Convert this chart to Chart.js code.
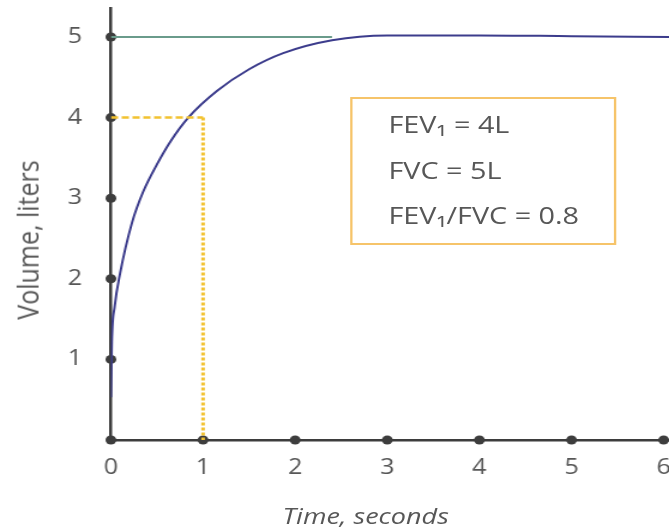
<!DOCTYPE html>
<html lang="en">
<head>
  <meta charset="UTF-8">
  <title>Volume-time curve</title>
  <script src="https://cdn.jsdelivr.net/npm/chart.js"></script>
  <style>
    body {
      margin: 0;
      padding: 0;
      background: #fff;
      font-family: 'Open Sans', sans-serif;
      overflow: hidden;
    }
    /* the source picture is stretched sideways by about 1.2, so the whole drawing is too */
    #wrap {
      position: relative;
      width: 563px;
      height: 532px;
      transform: scaleX(1.199);
      transform-origin: 0 0;
    }
    #infoBox {
      position: absolute;
      left: 292px;
      top: 97px;
      width: 218px;
      height: 144px;
      border: 2px solid #f6c46a;
      color: #575757;
      font-size: 24px;
    }
    #infoBox div {
      position: absolute;
      left: 30px;
      line-height: 24px;
      white-space: nowrap;
    }
    .axisTitle {
      position: absolute;
      color: #575757;
      white-space: nowrap;
      line-height: 1;
    }
    #xTitle {
      left: 305px;
      top: 516px;
      font-size: 22.5px;
      font-style: italic;
      transform: translate(-50%, -50%);
    }
    #yTitle {
      left: 23px;
      top: 240px;
      font-size: 25px;
      transform: translate(-50%, -50%) rotate(-90deg);
    }
  </style>
</head>
<body>
  <div id="wrap">
    <canvas id="chart" width="563" height="532"></canvas>
    <div id="infoBox">
      <div style="top:13px">FEV₁ = 4L</div>
      <div style="top:59px">FVC = 5L</div>
      <div style="top:104px">FEV₁/FVC = 0.8</div>
    </div>
    <div class="axisTitle" id="xTitle">Time, seconds</div>
    <div class="axisTitle" id="yTitle">Volume, liters</div>
  </div>

  <script>
    // volume-time curve
    const timeVals   = [0, 0.01, 0.04, 0.1, 0.23, 0.35, 0.5, 0.65, 0.84, 1.15, 1.5, 1.87, 2.4, 3.0, 4.0, 5.0, 6.07];
    const volumeVals = [0.53, 1.22, 1.65, 2.07, 2.7, 3.08, 3.42, 3.71, 4.0, 4.33, 4.6, 4.8, 4.96, 5.02, 5.02, 5.01, 5.0];

    // FVC reference line (y = 5) and FEV1 guide (t = 1, V = 4)
    const fvcLineX = [0, 2.4];
    const fvcValue = 5;
    const fev1Time = 1;
    const fev1Value = 4;

    // tick positions / labels
    const xTickVals = [0, 1, 2, 3, 4, 5, 6];
    const yTickVals = [1, 2, 3, 4, 5];

    const toPts = (xs, ys) => xs.map((x, i) => ({ x: x, y: ys[i] }));

    const axisColor = '#3d3d3d';
    const labelColor = '#575757';

    const noPad = s => { s.paddingTop = 0; s.paddingBottom = 0; s.paddingLeft = 0; s.paddingRight = 0; };

    new Chart(document.getElementById('chart'), {
      type: 'scatter',
      data: {
        datasets: [
          {
            data: toPts(fvcLineX, fvcLineX.map(() => fvcValue)),
            showLine: true,
            borderColor: '#6a9b8b',
            borderWidth: 2,
            pointRadius: 0
          },
          {
            data: [{ x: 0, y: fev1Value }, { x: fev1Time, y: fev1Value }],
            showLine: true,
            borderColor: '#f2c230',
            borderWidth: 2.5,
            borderDash: [6, 3],
            pointRadius: 0
          },
          {
            data: [{ x: fev1Time, y: fev1Value }, { x: fev1Time, y: 0 }],
            showLine: true,
            borderColor: '#f2c230',
            borderWidth: 3,
            borderDash: [3, 2],
            pointRadius: 0
          },
          {
            data: toPts(timeVals, volumeVals),
            showLine: true,
            borderColor: '#3c3c8c',
            borderWidth: 2,
            cubicInterpolationMode: 'monotone',
            pointRadius: 0
          },
          {
            data: xTickVals.map(v => ({ x: v, y: 0 })),
            pointRadius: 4.5,
            pointBackgroundColor: axisColor,
            pointBorderWidth: 0,
            clip: false
          },
          {
            data: yTickVals.map(v => ({ x: 0, y: v })),
            pointRadius: 4.5,
            pointBackgroundColor: axisColor,
            pointBorderWidth: 0,
            clip: false
          }
        ]
      },
      options: {
        responsive: false,
        animation: false,
        layout: { padding: { top: 8, left: 0, right: 0, bottom: 0 } },
        plugins: {
          legend: { display: false },
          tooltip: { enabled: false }
        },
        scales: {
          x: {
            type: 'linear',
            min: 0,
            max: 6.065,
            afterBuildTicks: s => { s.ticks = xTickVals.map(v => ({ value: v })); },
            afterFit: s => { s.height = 92; noPad(s); },
            grid: { color: 'transparent', drawTicks: false },
            border: { color: axisColor, width: 2.5 },
            ticks: {
              padding: 15,
              color: labelColor,
              font: { family: 'Open Sans', size: 21 }
            }
          },
          y: {
            type: 'linear',
            min: 0,
            max: 5.36,
            afterBuildTicks: s => { s.ticks = yTickVals.map(v => ({ value: v })); },
            afterFit: s => { s.width = 92.5; noPad(s); },
            grid: { color: 'transparent', drawTicks: false },
            border: { color: axisColor, width: 2.5 },
            ticks: {
              padding: 24,
              color: labelColor,
              font: { family: 'Open Sans', size: 21 }
            }
          }
        }
      }
    });
  </script>
</body>
</html>
